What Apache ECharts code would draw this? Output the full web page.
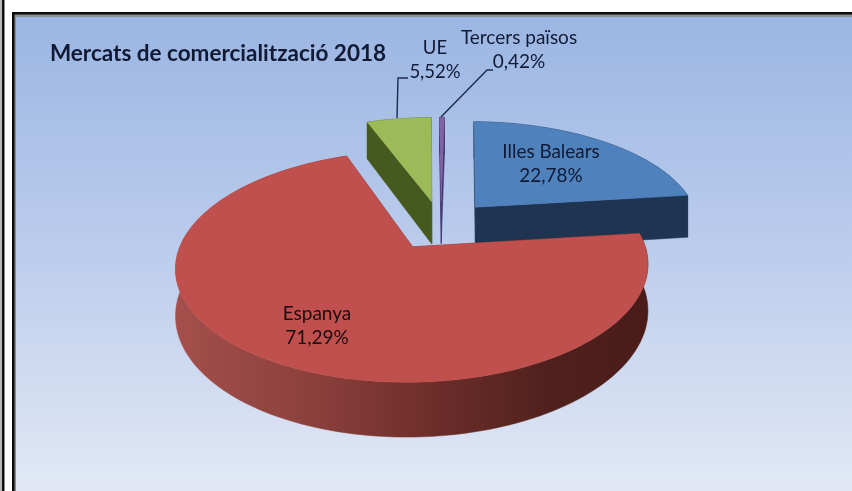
<!DOCTYPE html>
<html><head><meta charset="utf-8">
<style>html,body{margin:0;padding:0;background:#fff}#c{width:852px;height:491px}</style>
<script src="https://cdn.jsdelivr.net/npm/echarts@6/dist/echarts.min.js"></script>
</head><body><div id="c"></div>
<script>
const categories = ['Illes Balears', 'Espanya', 'UE', 'Tercers països'];
const shares = [22.78, 71.29, 5.52, 0.42];
const titleText = 'Mercats de comercialització 2018';

const topColors = ['#4f81bd', '#c0504d', '#9bbb59', '#8064a2'];
const wallColors = ['#1f3450', null, '#46591f', '#3c2f6a'];
const paintOrder = [10, 40, 20, 30];

const startAngle = 1, explode = 0.235, persp = 0.165, depth = 0.419;
const total = shares.reduce((a, b) => a + b, 0);
const pct = v => v.toFixed(2).replace('.', ',') + '%';
const rad = d => d * Math.PI / 180;

const chart = echarts.init(document.getElementById('c'));

function renderSlice(params, api) {
  const i = api.value(0);
  let before = 0;
  for (let k = 0; k < i; k++) before += shares[k];
  const a0 = startAngle + before / total * 360;
  const a1 = a0 + api.value(1) / total * 360;
  const mid = rad((a0 + a1) / 2);
  const ou = explode * Math.sin(mid), ov = explode * Math.cos(mid);
  const pr = (u, v, z) => {
    const w = 1 + persp * v;
    return api.coord([u / w, (v - z * depth) / w]);
  };
  const rim = (z) => {
    const n = Math.max(2, Math.ceil((a1 - a0) / 2)), pts = [];
    for (let k = 0; k <= n; k++) {
      const t = rad(a0 + (a1 - a0) * k / n);
      pts.push(pr(ou + Math.sin(t), ov + Math.cos(t), z));
    }
    return pts;
  };
  const top = rim(0), bot = rim(1);
  const ap0 = pr(ou, ov, 0), ap1 = pr(ou, ov, 1);
  const wall = wallColors[i] || new echarts.graphic.LinearGradient(177, 0, 649, 0, [
    { offset: 0, color: '#a44f4c' },
    { offset: 0.3, color: '#8a3f3b' },
    { offset: 0.55, color: '#6c2d29' },
    { offset: 0.8, color: '#4f201c' },
    { offset: 1, color: '#4a1c19' }
  ], true);
  const z = paintOrder[i];
  const poly = (points, fill, z2) => ({
    type: 'polygon', z2, shape: { points },
    style: { fill, stroke: fill, lineWidth: 0.5 }
  });
  return {
    type: 'group',
    children: [
      poly([ap0, top[0], bot[0], ap1], wall, z),
      poly([ap0, top[top.length - 1], bot[bot.length - 1], ap1], wall, z),
      poly(top.concat(bot.slice().reverse()), wall, z + 1),
      poly([ap0].concat(top), topColors[i], z + 2)
    ]
  };
}

const textColor = '#111a35';
const label = (x, y, text, size, extra) => Object.assign({
  type: 'text', x, y, z: 100,
  style: Object.assign({
    text, fill: textColor, font: size + 'px Lato',
    align: 'center', verticalAlign: 'middle', lineHeight: 24
  }, extra || {})
});
const bar = (x, y, w, h, fill) => ({ type: 'rect', z: -1, shape: { x, y, width: w, height: h }, style: { fill } });
const lead = (pts) => ({
  type: 'polyline', z: 100, shape: { points: pts },
  style: { stroke: '#1d2b4e', lineWidth: 1.4, fill: null }
});

chart.setOption({
  animation: false,
  backgroundColor: '#ffffff',
  grid: { left: -9, top: 15, width: 900, height: 420, show: false, outerBoundsMode: 'none' },
  xAxis: { type: 'value', min: -2, max: 2, show: false },
  yAxis: { type: 'value', min: -2, max: 2, show: false },
  series: [{
    type: 'custom',
    coordinateSystem: 'cartesian2d',
    clip: false,
    silent: true,
    renderItem: renderSlice,
    encode: { x: 0, y: 1 },
    data: shares.map((v, i) => [i, v])
  }],
  graphic: { elements: [
    bar(0, 0, 852, 491, '#ffffff'),
    bar(0, 0, 2, 491, '#b8b8b8'),
    bar(2, 0, 2.5, 491, '#111111'),
    bar(12, 12, 840, 479, '#8f8f8f'),
    bar(12, 12, 840, 2.5, '#0a0a0a'),
    bar(12, 12, 2.5, 479, '#0a0a0a'),
    {
      type: 'rect', z: -1,
      shape: { x: 16, y: 17, width: 836, height: 474 },
      style: { fill: new echarts.graphic.LinearGradient(0, 0, 0, 1, [
        { offset: 0, color: '#9bb6e3' },
        { offset: 0.5, color: '#bccdec' },
        { offset: 1, color: '#e2e8f5' }
      ]) }
    },
    label(218, 54, titleText, 22.5, { font: 'bold 22.5px Lato' }),
    label(551, 164, categories[0] + '\n' + pct(shares[0]), 18.9),
    label(317, 326, categories[1] + '\n' + pct(shares[1]), 19, { fill: '#1c0c10' }),
    label(435, 60, categories[2] + '\n' + pct(shares[2]), 18.5),
    label(519, 50, categories[3] + '\n' + pct(shares[3]), 19),
    lead([[397, 118], [398, 78], [408, 78]]),
    lead([[441, 117], [487, 70], [493, 70]])
  ] }
});
</script></body></html>
